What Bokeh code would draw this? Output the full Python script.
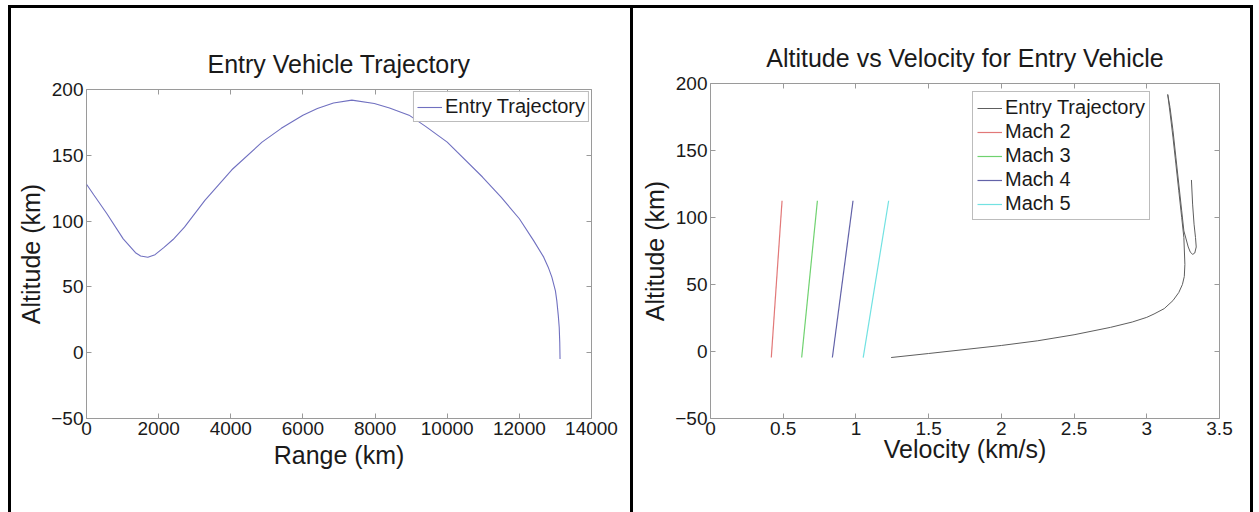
from bokeh.plotting import figure
from bokeh.models import LinearAxis, FixedTicker, Range1d, Legend, LegendItem, Div
from bokeh.layouts import row, column
from bokeh.embed import file_html
from bokeh.resources import INLINE

FONT = "Liberation Sans"

# ---- data: left chart (range vs altitude) ----
range_km = [0, 200, 566, 1018, 1358, 1500, 1700, 1900, 2150, 2400, 2716, 3282, 4029,
            4866, 5400, 6000, 6400, 6847, 7356, 7979, 8400, 8941, 9400, 10000, 10978,
            11500, 12000, 12400, 12675, 12800, 12901, 13000, 13038, 13080, 13105, 13120, 13128]
alt_range = [128, 120, 105.6, 86.5, 76, 73.5, 72.5, 74.5, 80, 86, 95.4, 115.7, 139,
             160, 170.5, 180.5, 185.5, 189.8, 191.9, 189.3, 186, 180.5, 172, 160, 133.5,
             118, 101.8, 85, 72.6, 65, 57.4, 47, 39.6, 28, 19.3, 8, -4.8]

# ---- data: right chart (velocity vs altitude) ----
vel_traj = [3.307, 3.315, 3.325, 3.335, 3.34, 3.33, 3.316, 3.30, 3.285, 3.27, 3.255,
            3.24, 3.22, 3.20, 3.18, 3.16, 3.144,
            3.16, 3.18, 3.20, 3.22, 3.24, 3.255, 3.262, 3.258, 3.245, 3.22, 3.18, 3.12,
            3.05, 3.0, 2.9, 2.75, 2.5, 2.25, 2.0, 1.75, 1.5, 1.242]
alt_traj = [128, 110, 95, 85, 78, 73.5, 72.5, 74, 78, 84, 90,
            105, 125, 145, 165, 182, 191.8,
            178, 160, 140, 120, 100, 85, 65, 56, 50, 44, 38, 32,
            28, 25.5, 22, 18, 12.5, 8, 4.5, 1.5, -1.5, -4.5]

mach_labels = ["Mach 2", "Mach 3", "Mach 4", "Mach 5"]
mach_vel = [[0.418, 0.492], [0.627, 0.735], [0.838, 0.980], [1.050, 1.225]]
mach_alt = [-4.5, 112.5]
mach_colors = ["#e27878", "#6fd26f", "#6262a8", "#72e2e2"]

x1_ticks = [0, 2000, 4000, 6000, 8000, 10000, 12000, 14000]
x2_ticks = [0, 0.5, 1, 1.5, 2, 2.5, 3, 3.5]
y_ticks = [-50, 0, 50, 100, 150, 200]

BOX = "#9a9a9a"
TXT = "#1a1a1a"


def make_fig(width, height, xr, yr, borders, title, xlabel, ylabel, xticks, xlab_standoff,
             margin):
    l, r, t, b = borders
    p = figure(width=width, height=height, output_backend="svg", toolbar_location=None,
               x_range=Range1d(*xr), y_range=Range1d(*yr), margin=margin,
               min_border_left=l, min_border_right=r, min_border_top=t, min_border_bottom=b)
    p.grid.visible = False
    p.outline_line_color = BOX
    p.outline_line_width = 1
    p.background_fill_color = "white"
    p.border_fill_color = "white"
    p.title.text = title
    p.title.align = "center"
    p.title.text_font = FONT
    p.title.text_font_size = "25px"
    p.title.text_font_style = "normal"
    p.title.text_color = TXT
    p.title.standoff = 23
    for ax, ticks in ((p.xaxis[0], xticks), (p.yaxis[0], y_ticks)):
        ax.ticker = FixedTicker(ticks=ticks)
        ax.axis_line_color = None
        ax.major_tick_in = 5
        ax.major_tick_out = 0
        ax.major_tick_line_color = BOX
        ax.minor_tick_line_color = None
        ax.major_label_text_font = FONT
        ax.major_label_text_font_size = "19px"
        ax.major_label_text_color = TXT
        ax.major_label_standoff = 3
        ax.axis_label_text_font = FONT
        ax.axis_label_text_font_size = "25px"
        ax.axis_label_text_font_style = "normal"
        ax.axis_label_text_color = TXT
        ax.axis_label_standoff = 3
    p.xaxis[0].axis_label = xlabel
    p.xaxis[0].axis_label_standoff = xlab_standoff
    p.yaxis[0].axis_label = ylabel
    for loc, ticks in (("above", xticks), ("right", y_ticks)):
        ax = LinearAxis(ticker=FixedTicker(ticks=ticks), axis_line_color=None,
                        major_tick_in=5, major_tick_out=0, major_tick_line_color=BOX,
                        minor_tick_line_color=None,
                        major_label_overrides={t: "" for t in ticks},
                        major_label_standoff=0)
        p.add_layout(ax, loc)
    return p


def make_legend(items, location, margin, spacing, padding):
    return Legend(items=items, location=location, label_text_font=FONT,
                  label_text_font_size="20px", label_text_color=TXT,
                  border_line_color="#7a7a7a", border_line_width=1,
                  padding=padding, spacing=spacing, margin=margin, glyph_width=25,
                  glyph_height=20, label_height=20, label_standoff=3)


# ---- left figure ----
p1 = make_fig(619, 498, (0, 14000), (-50, 200), (75, 39, 75, 94),
              "Entry Vehicle Trajectory", "Range (km)", "Altitude (km)", x1_ticks, 3,
              (6, 0, 0, 0))
r1 = p1.line(range_km, alt_range, line_color="#7070c0", line_width=1.1)
p1.add_layout(make_legend([LegendItem(label="Entry Trajectory", renderers=[r1])],
                          "top_right", 2, 2, 3))

# ---- right figure ----
p2 = make_fig(617, 504, (0, 3.5), (-50, 200), (77, 31, 75, 94),
              "Altitude vs Velocity for Entry Vehicle", "Velocity (km/s)", "Altitude (km)",
              x2_ticks, -3, 0)
r_tr = p2.line(vel_traj, alt_traj, line_color="#5e5e5e", line_width=1.0)
items = [LegendItem(label="Entry Trajectory", renderers=[r_tr])]
for lab, vv, col in zip(mach_labels, mach_vel, mach_colors):
    rr = p2.line(vv, mach_alt, line_color=col, line_width=1.2)
    items.append(LegendItem(label=lab, renderers=[rr]))
p2.add_layout(make_legend(items, (262, 198), 0, 1, 4))


def bar(w, h):
    return Div(text="", width=w, height=h, margin=0,
               styles={"background-color": "black"})


layout = column(bar(1245, 3),
                row(bar(3, 504), p1, bar(3, 504), p2, bar(3, 504), spacing=0, margin=0),
                spacing=0, margin=(5, 0, 0, 8))

open("out.html", "w").write(file_html(layout, INLINE))
